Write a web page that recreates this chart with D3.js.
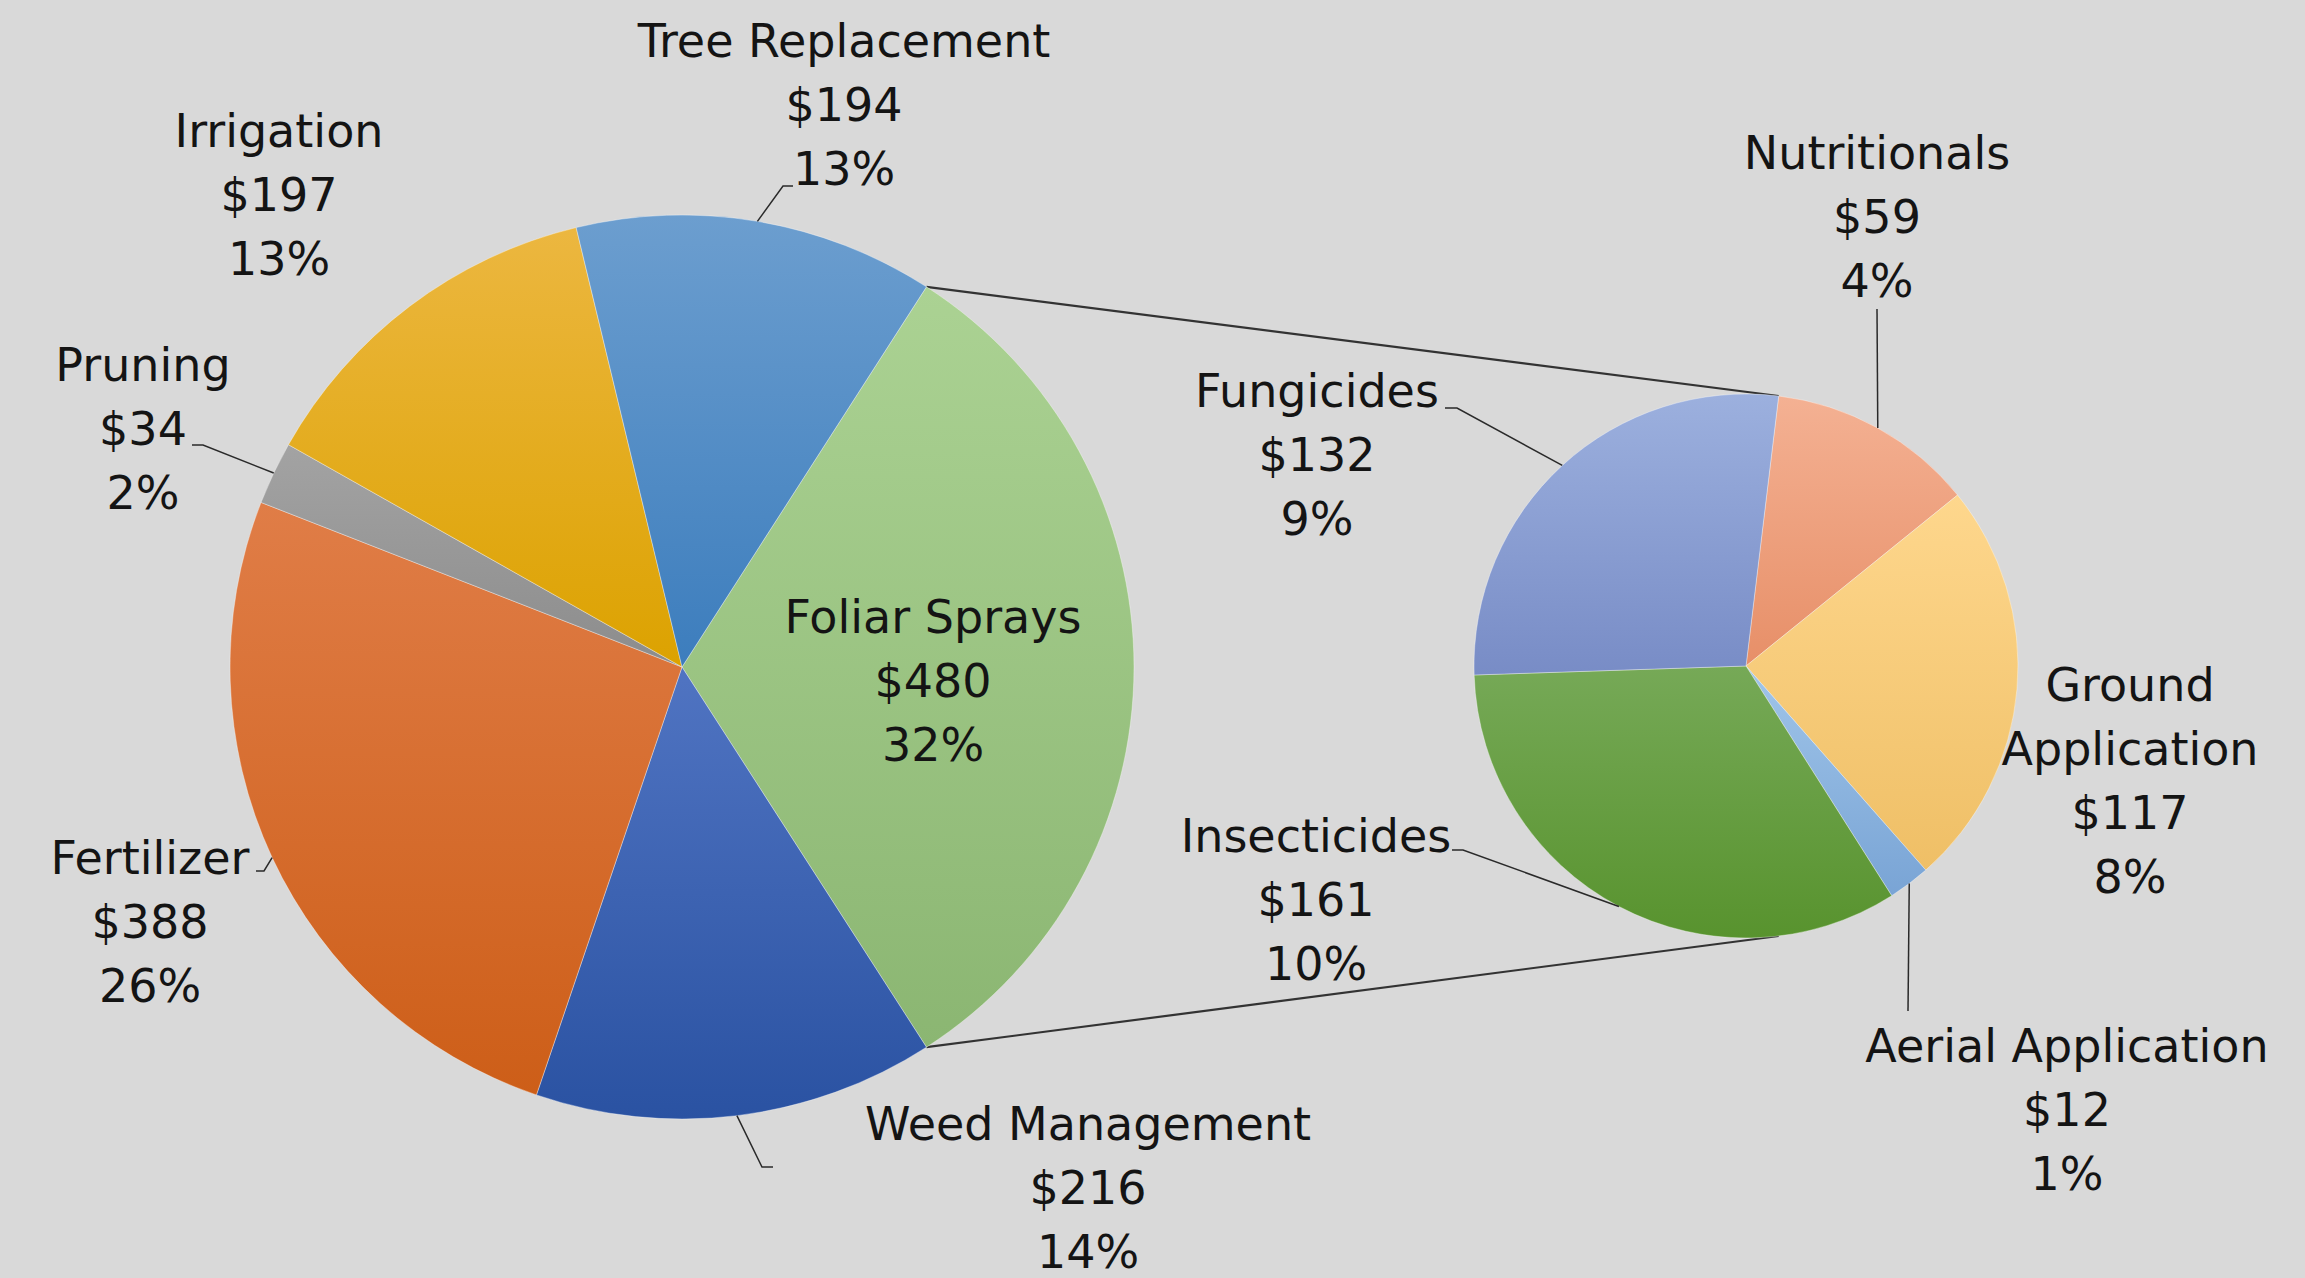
<!DOCTYPE html>
<html>
<head>
<meta charset="utf-8">
<script src="https://cdn.jsdelivr.net/npm/d3@7"></script>
<style>
  html, body { margin: 0; padding: 0; background: #d9d9d9; overflow: hidden; }
  svg { display: block; }
</style>
</head>
<body>
<svg id="chart" width="2305" height="1278"></svg>
<script>
// ---------------- DATA ----------------
const bigNames    = ["Foliar Sprays", "Weed Management", "Fertilizer", "Pruning", "Irrigation", "Tree Replacement"];
const bigValues   = [480, 216, 388, 34, 197, 194];
const bigPercents = ["32%", "14%", "26%", "2%", "13%", "13%"];

const smallNames    = ["Nutritionals", "Ground Application", "Aerial Application", "Insecticides", "Fungicides"];
const smallValues   = [59, 117, 12, 161, 132];
const smallPercents = ["4%", "8%", "1%", "10%", "9%"];

const splitCategory = "Foliar Sprays";

// ---------------- STYLE / LAYOUT ----------------
const W = 2305, H = 1278;
const bigCenter = [682, 667], bigR = 452;
const smallCenter = [1746, 666], smallR = 272;
const smallStartDeg = 6.9;           // secondary pie rotation
const fontSize = 46, lineGap = 64;

const gradColors = {
  "Foliar Sprays":      ["#abd293", "#8bb672"],
  "Weed Management":    ["#5074c2", "#2a52a2"],
  "Fertilizer":         ["#e07d47", "#cd5e18"],
  "Pruning":            ["#a3a3a3", "#8c8c8c"],
  "Irrigation":         ["#ecb740", "#dca200"],
  "Tree Replacement":   ["#6c9ecf", "#3c7dbd"],
  "Nutritionals":       ["#f4b193", "#e78f68"],
  "Ground Application": ["#fed78d", "#efbf66"],
  "Aerial Application": ["#a0c5e9", "#79a4d5"],
  "Insecticides":       ["#76a957", "#58932e"],
  "Fungicides":         ["#9cb0de", "#788cc6"]
};

// label anchor (center x, first baseline y), optional leader elbow/end, optional wrap
const labelLayout = {
  "Foliar Sprays":      { x: 933,  y: 633 },
  "Weed Management":    { x: 1088, y: 1140, leader: [[762, 1167], [773, 1167]] },
  "Fertilizer":         { x: 150,  y: 874,  leader: [[264, 871], [256, 871]] },
  "Pruning":            { x: 143,  y: 381,  leader: [[203, 445], [192, 445]] },
  "Irrigation":         { x: 279,  y: 147 },
  "Tree Replacement":   { x: 844,  y: 57,   leader: [[783, 186], [793, 186]] },
  "Nutritionals":       { x: 1877, y: 169,  leader: [[1877, 309]] },
  "Ground Application": { x: 2130, y: 701,  wrap: true },
  "Aerial Application": { x: 2067, y: 1062, leader: [[1908, 1011]] },
  "Insecticides":       { x: 1316, y: 852,  leader: [[1463, 850], [1452, 850]] },
  "Fungicides":         { x: 1317, y: 407,  leader: [[1457, 408], [1445, 408]] }
};

// ---------------- DRAW ----------------
const svg = d3.select("#chart");
svg.append("rect").attr("width", W).attr("height", H).attr("fill", "#d9d9d9");
const defs = svg.append("defs");

Object.entries(gradColors).forEach(([name, c], i) => {
  const g = defs.append("linearGradient")
    .attr("id", "grad" + i)
    .attr("x1", 0).attr("y1", 0).attr("x2", 0).attr("y2", 1);
  g.append("stop").attr("offset", "0%").attr("stop-color", c[0]);
  g.append("stop").attr("offset", "100%").attr("stop-color", c[1]);
  gradColors[name].id = "grad" + i;
});

const bigData = bigNames.map((n, i) => ({ name: n, value: bigValues[i], pct: bigPercents[i] }));
const smallData = smallNames.map((n, i) => ({ name: n, value: smallValues[i], pct: smallPercents[i] }));

const bigTotal = d3.sum(bigValues);
const splitSpan = 2 * Math.PI * bigValues[bigNames.indexOf(splitCategory)] / bigTotal;
const bigStart = Math.PI / 2 - splitSpan / 2;
const bigPie = d3.pie().sort(null).value(d => d.value)
  .startAngle(bigStart).endAngle(bigStart + 2 * Math.PI);
const smallStart = smallStartDeg * Math.PI / 180;
const smallPie = d3.pie().sort(null).value(d => d.value)
  .startAngle(smallStart).endAngle(smallStart + 2 * Math.PI);

const bigArcs = bigPie(bigData);
const smallArcs = smallPie(smallData);

const bigArc = d3.arc().innerRadius(0).outerRadius(bigR);
const smallArc = d3.arc().innerRadius(0).outerRadius(smallR);

function polar(center, r, a) {
  return [center[0] + r * Math.sin(a), center[1] - r * Math.cos(a)];
}

// connector lines
const split = bigArcs.find(d => d.data.name === splitCategory);
const connectors = [
  [polar(bigCenter, bigR, split.startAngle), polar(smallCenter, smallR, smallStart)],
  [polar(bigCenter, bigR, split.endAngle), polar(smallCenter, smallR, Math.PI - smallStart)]
];
svg.append("g").selectAll("line").data(connectors).join("line")
  .attr("x1", d => d[0][0]).attr("y1", d => d[0][1])
  .attr("x2", d => d[1][0]).attr("y2", d => d[1][1])
  .attr("stroke", "#333333").attr("stroke-width", 2.2);

function drawPie(arcs, arcGen, center) {
  const g = svg.append("g").attr("transform", `translate(${center[0]},${center[1]})`);
  g.selectAll("path").data(arcs).join("path")
    .attr("d", arcGen)
    .attr("fill", d => `url(#${gradColors[d.data.name].id})`)
    .attr("stroke", "rgba(255,255,255,0.35)")
    .attr("stroke-width", 1);
}
drawPie(bigArcs, bigArc, bigCenter);
drawPie(smallArcs, smallArc, smallCenter);

// leader lines
const leaderG = svg.append("g");
function drawLeaders(arcs, center, r) {
  arcs.forEach(d => {
    const lay = labelLayout[d.data.name];
    if (!lay.leader) return;
    const mid = (d.startAngle + d.endAngle) / 2;
    const pts = [polar(center, r, mid)].concat(lay.leader);
    leaderG.append("path")
      .attr("d", d3.line()(pts))
      .attr("fill", "none")
      .attr("stroke", "#2a2a2a")
      .attr("stroke-width", 1.5);
  });
}
drawLeaders(bigArcs, bigCenter, bigR);
drawLeaders(smallArcs, smallCenter, smallR);

// labels
const labelG = svg.append("g")
  .attr("font-family", "'DejaVu Sans', sans-serif")
  .attr("font-size", fontSize)
  .attr("fill", "#141414")
  .attr("text-anchor", "middle");
function drawLabels(arcs) {
  arcs.forEach(d => {
    const lay = labelLayout[d.data.name];
    const nameLines = lay.wrap ? d.data.name.split(" ") : [d.data.name];
    const lines = nameLines.concat(["$" + d.data.value, d.data.pct]);
    const gap = lay.gap || lineGap;
    const t = labelG.append("text").attr("x", lay.x).attr("y", lay.y);
    lines.forEach((s, i) => {
      t.append("tspan").attr("x", lay.x).attr("y", lay.y + i * gap).text(s);
    });
  });
}
drawLabels(bigArcs);
drawLabels(smallArcs);
</script>
</body>
</html>
